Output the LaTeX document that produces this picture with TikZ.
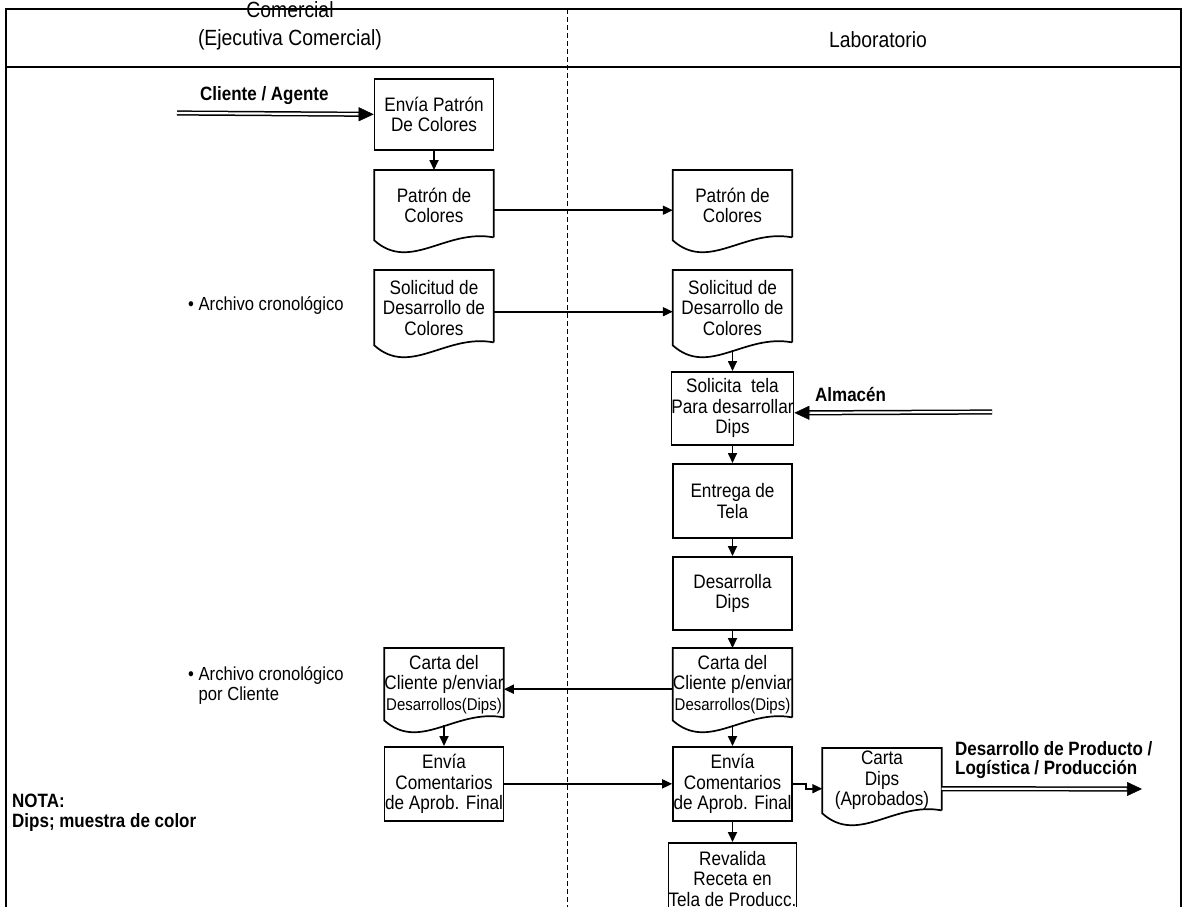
\documentclass[tikz,border=0pt]{standalone}
\usepackage{fontspec}
\setmainfont{Liberation Sans}
\newfontfamily\condfam[FakeStretch=0.88]{Liberation Sans}
\usetikzlibrary{arrows.meta,calc}

% fonts
\newcommand\bxfont{\condfam\fontsize{19.5}{20.5}\selectfont}
\newcommand\smfont{\condfam\fontsize{17}{20.5}\selectfont}
\newcommand\lbfont{\condfam\fontsize{19.3}{19.5}\selectfont\bfseries}
\newcommand\txfont{\condfam\fontsize{18.9}{20}\selectfont}
\newcommand\hdfont{\condfam\fontsize{22}{28}\selectfont}

\tikzset{
  boxline/.style={line width=1.7pt},
  proc/.style={draw, boxline, minimum width=119pt, inner sep=0pt, align=center, font=\bxfont},
  docu/.style={minimum width=119pt, inner sep=0pt, align=center, font=\bxfont},
  flow/.style={line width=1.7pt, -{Triangle[length=10pt,width=9pt]}},
  dblline/.style={double, double distance=2.2pt, line width=1.5pt, shorten >=14pt},
  dbltip/.style={line width=0.5pt, -{Triangle[length=15pt,width=14pt]}},
  lbl/.style={font=\lbfont, align=left, inner sep=0pt},
  note/.style={font=\txfont, align=left, inner sep=0pt},
  head/.style={font=\hdfont, align=center, inner sep=0pt},
}

% outline of a document symbol around a node: flat top, wavy bottom edge
\newcommand\docedge[1]{%
  \draw[boxline] ([yshift=3pt]#1.south east) -- (#1.north east) -- (#1.north west) -- (#1.south west)
    .. controls ($(#1.south west)!0.3!(#1.south east)+(0,-32pt)$)
       and ($(#1.south west)!0.6!(#1.south east)+(0,12pt)$) .. ([yshift=3pt]#1.south east);}

% wide double arrow with a solid head
\newcommand\dblarrow[2]{%
  \draw[dblline] (#1) -- (#2);
  \draw[dbltip] ($(#2)!16pt!(#1)$) -- (#2);}

\begin{document}
\begin{tikzpicture}[x=1pt, y=-1pt]
\useasboundingbox (0,0) rectangle (1183,907);
\clip (0,0) rectangle (1183,907);

% swimlane frame
\draw[line width=2.2pt] (6,9) rectangle (1181,940);
\draw[line width=2pt] (6,67) -- (1181,67);
\draw[line width=1pt, dash pattern=on 5pt off 3pt] (567,9) -- (567,907);

\node[head] (hcom) at (290,26) {Comercial\\(Ejecutiva Comercial)};
\node[head] (hlab) at (878,40) {Laboratorio};

% Comercial lane
\node[proc, minimum height=71pt, anchor=north] (envpat) at (434,78) {Envía Patrón\\De Colores};
\node[docu, minimum height=70pt, anchor=north] (lpat) at (434,170) {Patrón de\\Colores};
\docedge{lpat}
\node[docu, minimum height=75pt, anchor=north] (lsol) at (434,270) {Solicitud de\\Desarrollo de\\Colores};
\docedge{lsol}
\node[docu, minimum height=72pt, anchor=north] (lcarta) at (444,648) {Carta del\\Cliente p/enviar\\{\smfont Desarrollos(Dips)}};
\docedge{lcarta}
\node[proc, minimum height=74pt, anchor=north] (lenvia) at (444,746) {Envía\\Comentarios\\de Aprob. Final};

% Laboratorio lane
\node[docu, minimum height=70pt, anchor=north] (rpat) at (732.5,170) {Patrón de\\Colores};
\docedge{rpat}
\node[docu, minimum height=75pt, anchor=north] (rsol) at (732.5,270) {Solicitud de\\Desarrollo de\\Colores};
\docedge{rsol}
\node[proc, minimum height=73pt, anchor=north] (soltela) at (732.5,371) {Solicita\ \ tela\\Para desarrollar\\Dips};
\node[proc, minimum height=74pt, anchor=north] (entrega) at (732.5,463) {Entrega de\\Tela};
\node[proc, minimum height=73pt, anchor=north] (desdips) at (732.5,556) {Desarrolla\\Dips};
\node[docu, minimum height=72pt, anchor=north] (rcarta) at (732.5,648) {Carta del\\Cliente p/enviar\\{\smfont Desarrollos(Dips)}};
\docedge{rcarta}
\node[proc, minimum height=74pt, anchor=north] (renvia) at (732.5,746) {Envía\\Comentarios\\de Aprob. Final};
\node[docu, minimum height=65pt, anchor=north] (cdips) at (882,748) {Carta\\Dips\\(Aprobados)};
\docedge{cdips}
\node[proc, minimum height=72pt, anchor=north] (revalida) at (732.5,842) {Revalida\\Receta en\\Tela de Producc.};

% notes and external labels
\node[lbl, anchor=west] (lcli) at (200,96) {Cliente / Agente};
\node[lbl, anchor=west] (lalm) at (815,395) {Almacén};
\node[lbl, anchor=west] (lprod) at (955,760) {Desarrollo de Producto /\\Logística / Producción};
\node[note, anchor=west] (arch1) at (188,305) {• Archivo cronológico};
\node[note, anchor=west] (arch2) at (188,685) {• Archivo cronológico\\\hphantom{• }por Cliente};
\node[lbl, anchor=west] (nota) at (12,813) {NOTA:\\Dips; muestra de color};

% flow connectors
\draw[flow] (envpat.south) -- (lpat.north);
\draw[flow] ([yshift=-5pt]lpat.east) -- ([yshift=-5pt]rpat.west);
\draw[flow] ([yshift=-4pt]lsol.east) -- ([yshift=-4pt]rsol.west);
\draw[flow] ([yshift=-5pt]rsol.south) -- (soltela.north);
\draw[flow] (soltela.south) -- (entrega.north);
\draw[flow] (entrega.south) -- (desdips.north);
\draw[flow] (desdips.south) -- (rcarta.north);
\draw[flow] ([yshift=-5pt]rcarta.west) -- ([yshift=-5pt]lcarta.east);
\draw[flow] ([yshift=-5pt]lcarta.south) -- (lenvia.north);
\draw[flow] ([yshift=-5pt]rcarta.south) -- (renvia.north);
\draw[flow] (lenvia.east) -- (renvia.west);
\draw[flow] (renvia.east) -- ++(13,0) |- ([yshift=-8pt]cdips.west);
\draw[flow] (renvia.south) -- (revalida.north);

% inputs and outputs from other areas
\coordinate (cli) at (177,113);
\coordinate (almsrc) at (992,412);
\coordinate (almend) at ([yshift=-4.5pt]soltela.east);
\coordinate (prodsrc) at ([yshift=-8pt]cdips.east);
\coordinate (prodend) at (1142,789);
\dblarrow{cli}{envpat.west}
\dblarrow{almsrc}{almend}
\dblarrow{prodsrc}{prodend}
\end{tikzpicture}
\end{document}
